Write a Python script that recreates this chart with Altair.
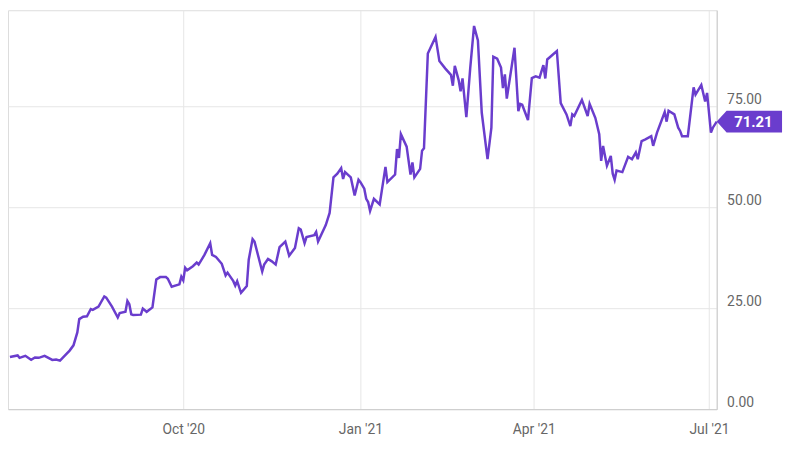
import altair as alt
import pandas as pd

dates = [
    "2020-07-03", "2020-07-07", "2020-07-08", "2020-07-11", "2020-07-14", "2020-07-16",
    "2020-07-18", "2020-07-21", "2020-07-25", "2020-07-27", "2020-07-29", "2020-08-01",
    "2020-08-03", "2020-08-05", "2020-08-07", "2020-08-08", "2020-08-10", "2020-08-12",
    "2020-08-14", "2020-08-15", "2020-08-18", "2020-08-21", "2020-08-22", "2020-08-25",
    "2020-08-28", "2020-08-29", "2020-09-01", "2020-09-02", "2020-09-03", "2020-09-04",
    "2020-09-05", "2020-09-09", "2020-09-10", "2020-09-12", "2020-09-15", "2020-09-17",
    "2020-09-19", "2020-09-22", "2020-09-23", "2020-09-25", "2020-09-29", "2020-09-30",
    "2020-10-01", "2020-10-02", "2020-10-03", "2020-10-06", "2020-10-08", "2020-10-09",
    "2020-10-12", "2020-10-15", "2020-10-16", "2020-10-18", "2020-10-21", "2020-10-23",
    "2020-10-24", "2020-10-27", "2020-10-28", "2020-10-29", "2020-10-31", "2020-11-03",
    "2020-11-04", "2020-11-06", "2020-11-07", "2020-11-11", "2020-11-12", "2020-11-14",
    "2020-11-16", "2020-11-18", "2020-11-20", "2020-11-23", "2020-11-25", "2020-11-28",
    "2020-11-30", "2020-12-01", "2020-12-03", "2020-12-04", "2020-12-08", "2020-12-09",
    "2020-12-10", "2020-12-14", "2020-12-16", "2020-12-18", "2020-12-20", "2020-12-22",
    "2020-12-23", "2020-12-24", "2020-12-27", "2020-12-29", "2020-12-31", "2021-01-01",
    "2021-01-03", "2021-01-04", "2021-01-05", "2021-01-06", "2021-01-08", "2021-01-11",
    "2021-01-14", "2021-01-15", "2021-01-19", "2021-01-20", "2021-01-21", "2021-01-22",
    "2021-01-25", "2021-01-27", "2021-01-28", "2021-01-29", "2021-02-01", "2021-02-02",
    "2021-02-03", "2021-02-05", "2021-02-09", "2021-02-11", "2021-02-14", "2021-02-17",
    "2021-02-18", "2021-02-19", "2021-02-21", "2021-02-22", "2021-02-23", "2021-02-25",
    "2021-02-27", "2021-03-01", "2021-03-03", "2021-03-05", "2021-03-08", "2021-03-10",
    "2021-03-11", "2021-03-13", "2021-03-15", "2021-03-16", "2021-03-17", "2021-03-18",
    "2021-03-22", "2021-03-24", "2021-03-25", "2021-03-26", "2021-03-29", "2021-03-31",
    "2021-04-02", "2021-04-04", "2021-04-06", "2021-04-07", "2021-04-08", "2021-04-13",
    "2021-04-15", "2021-04-18", "2021-04-20", "2021-04-21", "2021-04-22", "2021-04-26",
    "2021-04-29", "2021-04-30", "2021-05-03", "2021-05-05", "2021-05-06", "2021-05-07",
    "2021-05-08", "2021-05-09", "2021-05-11", "2021-05-12", "2021-05-13", "2021-05-14",
    "2021-05-17", "2021-05-20", "2021-05-22", "2021-05-24", "2021-05-25", "2021-05-27",
    "2021-05-29", "2021-06-01", "2021-06-02", "2021-06-04", "2021-06-08", "2021-06-09",
    "2021-06-10", "2021-06-13", "2021-06-15", "2021-06-16", "2021-06-17", "2021-06-20",
    "2021-06-23", "2021-06-24", "2021-06-27", "2021-06-29", "2021-06-30", "2021-07-02",
    "2021-07-03", "2021-07-05",
]

values = [
    12.9, 13.3, 12.7, 13.2, 12.2, 12.8,
    12.7, 13.2, 12.2, 12.3, 12.0, 13.5,
    14.5, 15.8, 19.0, 22.3, 22.9, 23.0,
    24.8, 24.6, 25.4, 27.9, 27.6, 25.4,
    22.7, 23.8, 24.1, 26.8, 26.0, 23.5,
    23.3, 23.4, 24.9, 24.1, 25.2, 32.1,
    32.7, 32.7, 32.3, 30.3, 30.9, 32.8,
    31.9, 35.0, 34.4, 35.4, 36.3, 35.8,
    38.2, 41.1, 38.2, 37.7, 36.0, 33.1,
    33.8, 31.7, 30.6, 31.7, 28.8, 30.5,
    37.0, 42.1, 41.5, 34.1, 35.8, 37.2,
    36.6, 35.8, 40.1, 41.5, 38.0, 39.9,
    44.8, 44.5, 41.1, 42.6, 43.1, 43.9,
    41.5, 45.6, 48.6, 57.4, 58.3, 59.7,
    57.0, 58.7, 57.4, 52.9, 56.8, 56.2,
    54.6, 52.1, 51.3, 49.1, 52.1, 50.7,
    60.0, 56.2, 58.1, 64.4, 62.2, 68.1,
    65.0, 58.1, 61.1, 57.4, 59.5, 64.0,
    64.6, 88.1, 92.2, 86.2, 84.4, 82.8,
    80.1, 85.0, 81.5, 78.7, 81.9, 72.3,
    84.4, 94.9, 91.3, 73.4, 61.9, 69.7,
    87.3, 86.8, 84.6, 79.5, 82.9, 76.9,
    89.5, 73.8, 75.6, 75.4, 71.6, 82.0,
    82.4, 82.1, 85.2, 81.9, 86.6, 88.7,
    75.8, 73.0, 70.1, 73.0, 72.6, 76.6,
    72.6, 75.6, 72.1, 68.1, 61.5, 65.2,
    62.7, 60.3, 62.7, 58.3, 56.8, 59.1,
    58.7, 62.5, 61.9, 63.6, 61.9, 66.4,
    66.8, 67.6, 65.2, 68.5, 73.6, 71.2,
    73.9, 73.0, 69.7, 68.9, 67.6, 67.6,
    79.7, 77.9, 80.3, 76.2, 78.3, 68.5,
    69.7, 71.21,
]

y_ticks = [0, 25, 50, 75]
x_tick_dates = [(2020, 10, 1), (2021, 1, 1), (2021, 4, 1), (2021, 7, 1)]

PURPLE = "#6a3dcd"
FONT = "Roboto"

df = pd.DataFrame({"date": dates, "value": values})
last = pd.DataFrame({"date": [dates[-1]], "value": [values[-1]],
                     "label": [f"{values[-1]:.2f}"]})

x_scale = alt.Scale(domain=["2020-07-02", "2021-07-05"], nice=False)
y_scale = alt.Scale(domain=[0, 98.8], nice=False, zero=True)

x_axis = alt.Axis(
    values=[alt.DateTime(year=y, month=m, date=d) for (y, m, d) in x_tick_dates],
    format="%b '%y", title=None, ticks=False, tickSize=0, labelPadding=14,
    grid=True, gridColor="#e6e6e6", domainColor="#cccccc",
    labelColor="#666666", labelFont=FONT, labelFontSize=14,
)
y_axis = alt.Axis(
    orient="right", values=y_ticks, format=".2f", title=None, ticks=False,
    tickSize=0, labelPadding=10, labelAlign="left", labelBaseline="alphabetic",
    labelOffset=-3, grid=True, gridColor="#e6e6e6", domainColor="#cccccc",
    labelColor="#666666", labelFont=FONT, labelFontSize=14,
)

line = alt.Chart(df).mark_line(color=PURPLE, strokeWidth=2.5).encode(
    x=alt.X("date:T", scale=x_scale, axis=x_axis),
    y=alt.Y("value:Q", scale=y_scale, axis=y_axis),
)

badge_path = "M0,0L0.303,-0.333L2,-0.333L2,0.333L0.303,0.333Z"
badge = alt.Chart(last).mark_point(
    shape=badge_path, size=4356, filled=True, opacity=1, color=PURPLE,
).encode(
    x=alt.X("date:T", scale=x_scale),
    y=alt.Y("value:Q", scale=y_scale),
)
badge_text = alt.Chart(last).mark_text(
    color="white", font=FONT, fontSize=15, fontWeight="bold", dx=37,
    align="center", baseline="middle",
).encode(
    x=alt.X("date:T", scale=x_scale),
    y=alt.Y("value:Q", scale=y_scale),
    text="label:N",
)

chart = alt.layer(line, badge, badge_text).properties(
    width=716, height=403,
    autosize=alt.AutoSizeParams(type="none"),
    padding={"left": 0, "top": 0, "right": 70, "bottom": 34},
).configure_view(stroke="#e0e0e0").configure(background="white")

chart.save("out.html", embed_options={"renderer": "svg", "actions": False})
